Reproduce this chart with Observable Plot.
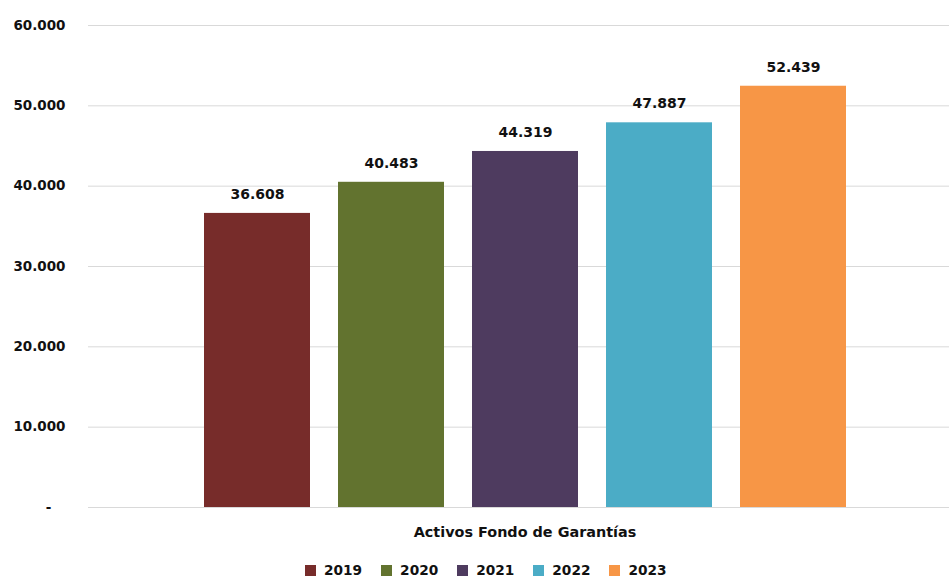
<!DOCTYPE html>
<html>
<head>
<meta charset="utf-8">
<script src="https://cdn.jsdelivr.net/npm/d3@7"></script>
<script src="https://cdn.jsdelivr.net/npm/@observablehq/plot@0.6"></script>
<style>
  html, body { margin: 0; padding: 0; background: #fff; }
  body { width: 949px; height: 577px; overflow: hidden; font-family: "DejaVu Sans", sans-serif; font-weight: bold; color: #111; }
  #cat { position: absolute; left: 0; top: 524px; width: 949px; text-align: center; font-size: 14.4px; line-height: 16px; padding-left: 101px; box-sizing: border-box; }
  #legend { position: absolute; left: 305px; top: 564px; display: flex; font-size: 13.7px; line-height: 13px; }
  .item { display: flex; align-items: center; margin-right: 19px; }
  .sw { width: 11px; height: 11px; margin-right: 8px; }
</style>
</head>
<body>
<div id="chart"></div>
<div id="cat"></div>
<div id="legend"></div>
<script>
const years = ["2019", "2020", "2021", "2022", "2023"];
const values = [36608, 40483, 44319, 47887, 52439];
const colors = ["#772c2a", "#62732f", "#4e3b5f", "#4bacc6", "#f79646"];
const yTicks = [0, 10000, 20000, 30000, 40000, 50000, 60000];
const categoryLabel = "Activos Fondo de Garantías";

const data = years.map((y, i) => ({year: y, value: values[i]}));
const fmt = d => d === 0 ? "-\u00a0\u00a0\u00a0" : d3.format(",")(d).replace(/,/g, ".");

const chart = Plot.plot({
  width: 949,
  height: 515,
  marginTop: 25,
  marginBottom: 8,
  marginLeft: 88,
  marginRight: 0,
  style: {fontFamily: "DejaVu Sans, sans-serif", fontWeight: "bold", fontSize: "13.5px", color: "#111", background: "#fff"},
  x: {domain: years, range: [190, 860], paddingInner: 0.209, paddingOuter: 0.1045, axis: null},
  y: {domain: [0, 60000], ticks: yTicks, tickFormat: fmt, tickSize: 0, tickPadding: 23, label: null},
  color: {domain: years, range: colors},
  marks: [
    Plot.ruleY(yTicks, {stroke: "#d9d9d9", strokeWidth: 1}),
    Plot.barY(data, {x: "year", y: "value", fill: "year"}),
    Plot.text(data, {x: "year", y: "value", text: d => fmt(d.value), dy: -19, fill: "#111", fontSize: 14, fontWeight: "bold"})
  ]
});
document.getElementById("chart").appendChild(chart);
document.getElementById("cat").textContent = categoryLabel;

const lg = document.getElementById("legend");
years.forEach((y, i) => {
  const it = document.createElement("div");
  it.className = "item";
  const sw = document.createElement("div");
  sw.className = "sw";
  sw.style.background = colors[i];
  const t = document.createElement("span");
  t.textContent = y;
  it.appendChild(sw); it.appendChild(t);
  lg.appendChild(it);
});
</script>
</body>
</html>
